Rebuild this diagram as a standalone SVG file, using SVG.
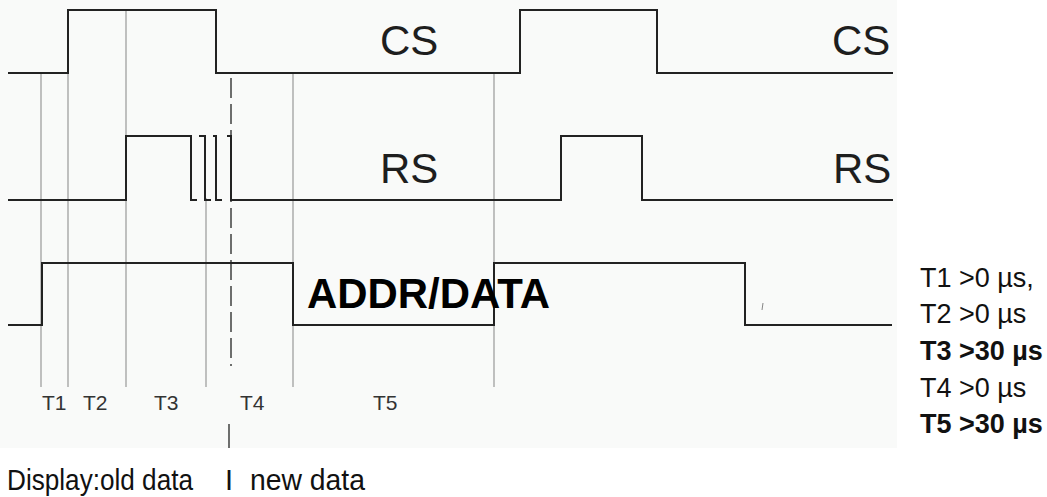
<svg xmlns="http://www.w3.org/2000/svg" width="1047" height="497" viewBox="0 0 1047 497">
  <style>
    .sig { fill: none; stroke: #222; stroke-width: 2; stroke-linejoin: miter; }
    .mark { fill: none; stroke: #858585; stroke-width: 1; }
    .dash { fill: none; stroke: #333; stroke-width: 1.4; }
    .big { font-family: "Liberation Sans", Arial, sans-serif; font-size: 42px; fill: #1e1e1e; }
    .tl { font-family: "Liberation Sans", Arial, sans-serif; font-size: 21px; fill: #333; }
    .rt { font-family: "Liberation Sans", Arial, sans-serif; font-size: 27px; fill: #111; }
    .rtb { font-family: "Liberation Sans", Arial, sans-serif; font-size: 27px; font-weight: bold; fill: #111; }
    .bt { font-family: "Liberation Sans", Arial, sans-serif; font-size: 29px; fill: #111; }
  </style>
  <rect x="0" y="0" width="1047" height="497" fill="#ffffff"/>
  <rect x="0" y="0" width="897" height="448" fill="#f9faf9"/>

  <g id="markers">
    <line class="mark" x1="41" y1="73" x2="41" y2="387"/>
    <line class="mark" x1="68" y1="10" x2="68" y2="387"/>
    <line class="mark" x1="126" y1="10" x2="126" y2="387"/>
    <line class="mark" x1="206" y1="198" x2="206" y2="387"/>
    <line class="mark" x1="293" y1="73" x2="293" y2="387"/>
    <line class="mark" x1="494" y1="73" x2="494" y2="387"/>
    <line class="dash" x1="231" y1="78" x2="231" y2="366" stroke-dasharray="20 6"/>
    <line class="dash" x1="229" y1="424" x2="229" y2="448"/>
    <line class="mark" x1="763" y1="303" x2="762" y2="310"/>
  </g>

  <g id="cs">
    <path class="sig" d="M8,73 H68 V10 H216 V73 H520 V10 H657 V73 H893"/>
    <text class="big" x="380" y="55">CS</text>
    <text class="big" x="832" y="55">CS</text>
  </g>

  <g id="rs">
    <path class="sig" d="M8,200 H126 V136 H191 V200 H197 M199,136 H205 V200 H211 M213,136 H216 V200 H222 M227,136 H231 V200 H561 V136 H642 V200 H893"/>
    <text class="big" x="380" y="183">RS</text>
    <text class="big" x="833" y="183">RS</text>
  </g>

  <g id="addr">
    <path class="sig" d="M8,325 H42 V263 H293 V325 H494 V263 H745 V325 H892"/>
    <text x="307" y="308" font-family="Liberation Sans, Arial, sans-serif" font-size="42" font-weight="bold" fill="#000" textLength="243" lengthAdjust="spacingAndGlyphs">ADDR/DATA</text>
  </g>

  <g id="tlabels">
    <text class="tl" x="42" y="410">T1</text>
    <text class="tl" x="83" y="410">T2</text>
    <text class="tl" x="154" y="410">T3</text>
    <text class="tl" x="240" y="410">T4</text>
    <text class="tl" x="373" y="410">T5</text>
  </g>

  <g id="legend">
    <text class="rt" x="920" y="287">T1 &gt;0 µs,</text>
    <text class="rt" x="920" y="323">T2 &gt;0 µs</text>
    <text class="rtb" x="920" y="360">T3 &gt;30 µs</text>
    <text class="rt" x="920" y="397">T4 &gt;0 µs</text>
    <text class="rtb" x="920" y="433">T5 &gt;30 µs</text>
  </g>

  <g id="display">
    <text class="bt" x="7" y="490" textLength="186" lengthAdjust="spacingAndGlyphs">Display:old data</text>
    <text class="bt" x="225" y="490">I</text>
    <text class="bt" x="250" y="490" textLength="115" lengthAdjust="spacingAndGlyphs">new data</text>
  </g>
</svg>
